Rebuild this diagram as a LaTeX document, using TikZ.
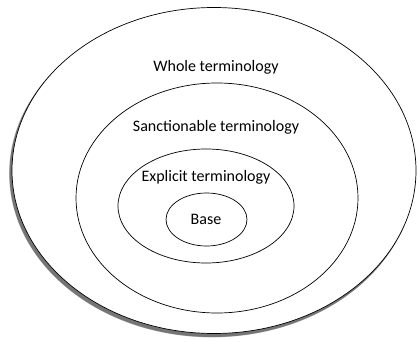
\documentclass[tikz,border=0pt]{standalone}
\usepackage{fontspec}
\setmainfont{Carlito}
\usetikzlibrary{shapes.geometric,shadows}
\begin{document}
\begin{tikzpicture}[x=1pt,y=-1pt,
  ring/.style={ellipse,draw=black,line width=0.7pt,inner sep=0pt,fill=white},
  lbl/.style={font=\fontsize{16}{19}\selectfont,inner sep=0pt}]
\useasboundingbox (0,0) rectangle (417,342);
% soft shadow of outer ellipse
\foreach \i/\o in {3.2/0.10,2.6/0.15,2.0/0.2,1.4/0.25}{
  \fill[black,opacity=\o] (212,173.5) ellipse [x radius=202+\i*0.3, y radius=163+\i*0.3];
}
\node[ring,minimum width=404pt,minimum height=326pt] (whole) at (214,170.5) {};
\node[ring,minimum width=282pt,minimum height=230pt] (sanct) at (217,198) {};
\node[ring,minimum width=176pt,minimum height=114pt] (expl) at (206,206) {};
\node[ring,minimum width=81pt,minimum height=53pt] (base) at (206.5,219.5) {};
\node[lbl] (twhole) at (216,67) {Whole terminology};
\node[lbl] (tsanct) at (216,127) {Sanctionable terminology};
\node[lbl] (texpl) at (206,177) {Explicit terminology};
\node[lbl] (tbase) at (206,219) {Base};
\end{tikzpicture}
\end{document}
